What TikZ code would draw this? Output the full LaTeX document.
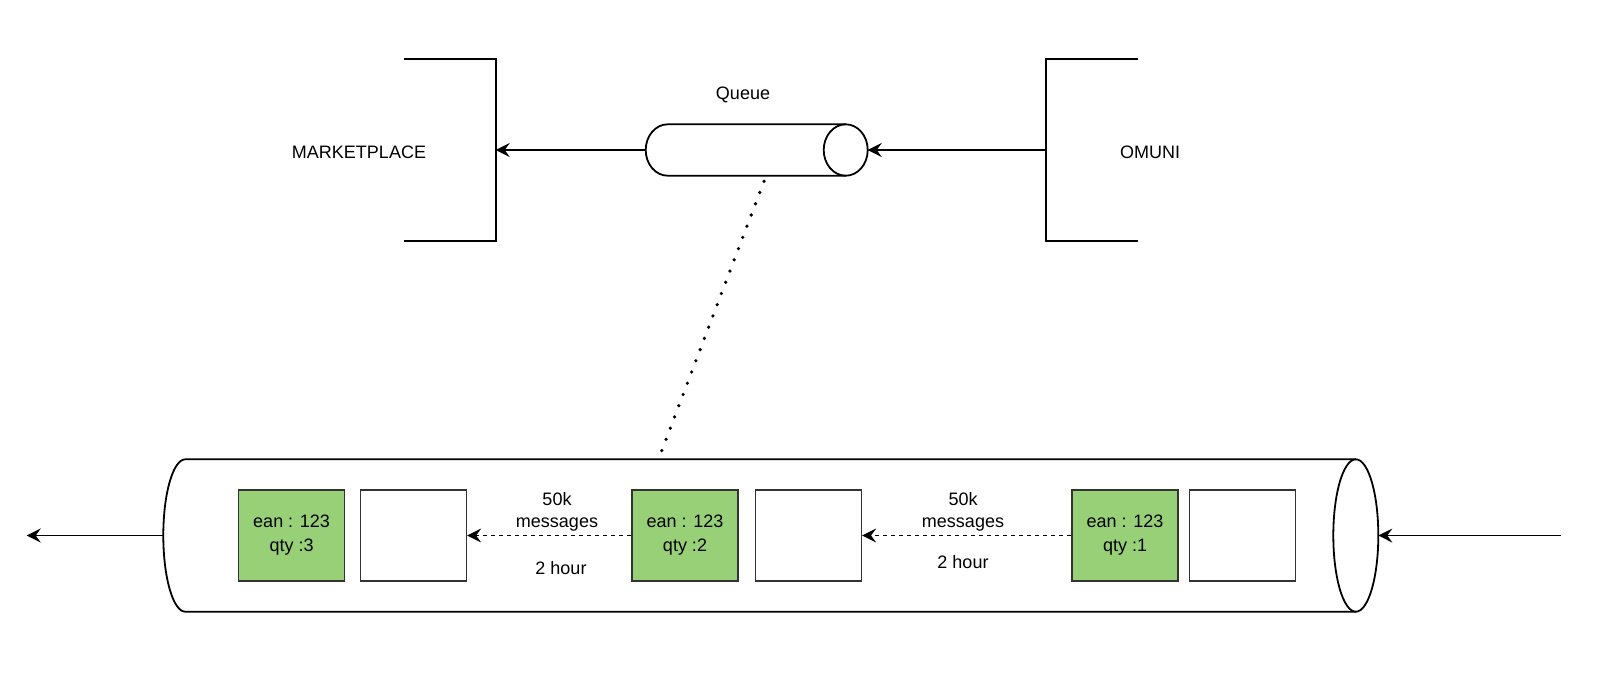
\documentclass[tikz,border=0pt]{standalone}
\usepackage{fontspec}
\setmainfont{Liberation Sans}
\usetikzlibrary{arrows.meta}
\definecolor{boxgreen}{HTML}{97D077}
\definecolor{edgegray}{HTML}{333333}
\begin{document}
\begin{tikzpicture}[x=0.5pt,y=-0.5pt,
  font=\fontsize{9}{11}\selectfont,
  line/.style={line width=0.9pt, draw=black},
  arr/.style={line, -{Stealth[length=7pt,width=7pt,inset=2.5pt]}},
  darr/.style={arr, dash pattern=on 2pt off 2pt},
  dots/.style={line width=1.8pt, line cap=round, dash pattern=on 0pt off 6pt},
  brk/.style={inner sep=0pt, outer sep=0pt, minimum width=45.85pt, minimum height=91pt},
  holder/.style={inner sep=0pt, outer sep=0pt},
  msg/.style={draw=edgegray, line width=0.8pt, fill=boxgreen, minimum width=53pt,
    minimum height=45.5pt, inner sep=0pt, align=center,
    font=\fontsize{9}{12}\selectfont},
  slot/.style={msg, fill=white},
  lbl/.style={inner sep=0pt, align=center}]
\useasboundingbox (0,0) rectangle (1600,681);

% MARKETPLACE bracket
\node[brk] (mp) at (449.85,150) {};
\draw[line] (mp.north west) -- (mp.north east) -- (mp.south east) -- (mp.south west);
\node[lbl] (mpt) at (359,152) {MARKETPLACE};

% OMUNI bracket
\node[brk] (om) at (1091.85,150) {};
\draw[line] (om.north east) -- (om.north west) -- (om.south west) -- (om.south east);
\node[lbl] (omt) at (1150,152) {OMUNI};

% Queue cylinder
\node[holder, minimum width=111pt, minimum height=25.7pt] (q) at (756.7,150) {};
\draw[line] ([xshift=-11pt]q.north east) -- ([xshift=11pt]q.north west)
  arc[start angle=90, end angle=270, x radius=11pt, y radius=12.85pt]
  -- ([xshift=-11pt]q.south east);
\draw[line] ([xshift=-11pt]q.east) ellipse [x radius=11pt, y radius=12.85pt];
\node[lbl] (ql) at (743,95) {Queue};

\draw[arr] (q.west) -- (mp.east);
\draw[arr] (om.west) -- (q.east);

% Big cylinder
\node[holder, minimum width=607.5pt, minimum height=76.2pt] (big) at (770.8,535.5) {};
\draw[line] ([xshift=-11.25pt]big.north east) -- ([xshift=11pt]big.north west)
  arc[start angle=90, end angle=270, x radius=11pt, y radius=38.1pt]
  -- ([xshift=-11.25pt]big.south east);
\draw[line] ([xshift=-11.25pt]big.east) ellipse [x radius=11.25pt, y radius=38.1pt];

% dotted zoom line
\draw[dots] ([xshift=3.65pt,yshift=-2.8pt]q.south) -- ([xshift=-55.4pt,yshift=2pt]big.north);

% outer arrows
\coordinate (lout) at (26.7,535.5);
\coordinate (rin) at (1561,535.5);
\draw[arr] (big.west) -- (lout);
\draw[arr] (rin) -- (big.east);

% message boxes
\node[msg] (g1) at (291.6,535.5) {ean : 123\\qty :3};
\node[slot] (w1) at (413.3,535.5) {};
\node[msg] (g2) at (685,535.5) {ean : 123\\qty :2};
\node[slot] (w2) at (808.3,535.5) {};
\node[msg] (g3) at (1125,535.5) {ean : 123\\qty :1};
\node[slot] (w3) at (1242.6,535.5) {};

\draw[darr] (g2.west) -- (w1.east);
\draw[darr] (g3.west) -- (w2.east);

\node[lbl] (m1) at (557,512) {50k\\messages};
\node[lbl] (h1) at (561,568) {2 hour};
\node[lbl] (m2) at (963,512) {50k\\messages};
\node[lbl] (h2) at (963,562) {2 hour};
\end{tikzpicture}
\end{document}
